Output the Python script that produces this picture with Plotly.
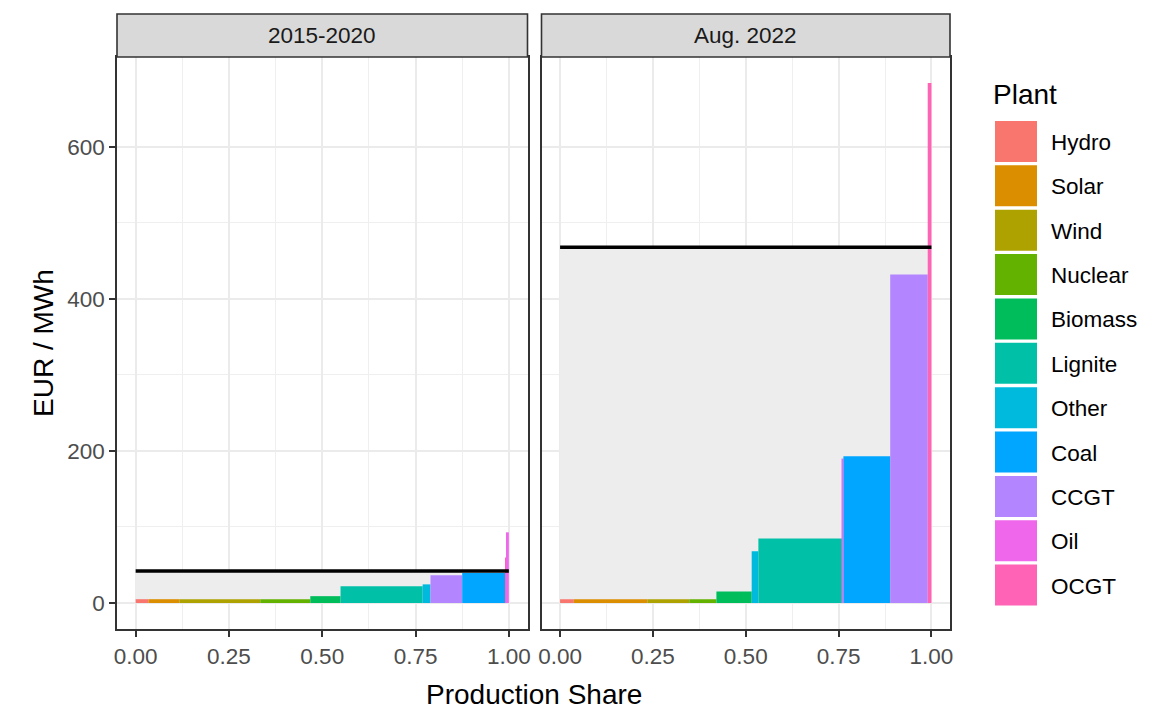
import numpy as np
import plotly.graph_objects as go

# ---------------- data ----------------
plants = ["Hydro", "Solar", "Wind", "Nuclear", "Biomass", "Lignite",
          "Other", "Coal", "CCGT", "Oil", "OCGT"]
plant_colors = ["#F8766D", "#DB8E00", "#AEA200", "#64B200", "#00BD5C", "#00C1A7",
                "#00BADE", "#00A6FF", "#B385FF", "#EF67EB", "#FF63B6"]

periods = ["2015-2020", "Aug. 2022"]

order_2015 = ["Hydro", "Solar", "Wind", "Nuclear", "Biomass", "Lignite",
              "Other", "CCGT", "Coal", "OCGT", "Oil"]
share_2015 = [0.035, 0.083, 0.216, 0.134, 0.081, 0.220, 0.021, 0.085, 0.116, 0.004, 0.005]
price_2015 = [5, 5, 5, 5, 9, 22, 24.5, 36.5, 39.5, 60, 93]

order_2022 = ["Hydro", "Solar", "Wind", "Nuclear", "Biomass", "Other",
              "Lignite", "Oil", "Coal", "CCGT", "OCGT"]
share_2022 = [0.037, 0.198, 0.113, 0.073, 0.095, 0.018, 0.226, 0.003, 0.126, 0.101, 0.010]
price_2022 = [5, 5, 5, 5, 15, 68, 85, 190, 193, 432, 684]

clearing_price = [42, 468]

x_ticks = [0.0, 0.25, 0.5, 0.75, 1.0]
x_tick_labels = ["0.00", "0.25", "0.50", "0.75", "1.00"]
y_ticks = [0, 200, 400, 600]
y_tick_labels = ["0", "200", "400", "600"]

# ---------------- figure ----------------
W, H = 1164, 709
FONT = "Liberation Sans"
TICK_SIZE = 22.5
TITLE_SIZE = 28
color_of = dict(zip(plants, plant_colors))

fig = go.Figure()

panels = [
    (order_2015, share_2015, price_2015, clearing_price[0], "x", "y"),
    (order_2022, share_2022, price_2022, clearing_price[1], "x2", "y2"),
]

for order, share, price, clear, xa, ya in panels:
    share = np.array(share)
    right = np.cumsum(share)
    left = right - share
    # shaded area under the clearing price
    fig.add_trace(go.Bar(x=[0.5], y=[clear], width=[1.0], base=0,
                         marker=dict(color="#EDEDED", line=dict(width=0)),
                         xaxis=xa, yaxis=ya, showlegend=False, hoverinfo="skip"))
    for name, l, w, p in zip(order, left, share, price):
        fig.add_trace(go.Bar(x=[l + w / 2], y=[p], width=[w], base=0, name=name,
                             marker=dict(color=color_of[name], line=dict(width=0)),
                             xaxis=xa, yaxis=ya, showlegend=False))
    fig.add_trace(go.Scatter(x=[0, 1], y=[clear, clear], mode="lines",
                             line=dict(color="black", width=3.6),
                             xaxis=xa, yaxis=ya, showlegend=False, hoverinfo="skip"))

# panel geometry (pixels)
left_px = [(117, 527.5), (541.5, 950)]
top_px, bot_px = 57, 629
ydom = [(H - bot_px) / H, (H - top_px) / H]

axis_common = dict(
    showline=True, mirror=True, linecolor="#333333", linewidth=1.6,
    showgrid=True, gridcolor="#EBEBEB", gridwidth=2,
    zeroline=False, automargin=False,
    tickfont=dict(family=FONT, size=TICK_SIZE, color="#4D4D4D"),
    ticks="outside", ticklen=6, tickwidth=1.6, tickcolor="#333333",
)

xr = [-0.05, 1.05]
yr = [-34.2, 718.2]

for i, (x0, x1) in enumerate(left_px):
    xkey = "xaxis" if i == 0 else "xaxis2"
    ykey = "yaxis" if i == 0 else "yaxis2"
    fig.layout[xkey] = dict(
        axis_common, domain=[x0 / W, x1 / W], range=xr,
        tickvals=x_ticks, ticktext=x_tick_labels,
        minor=dict(tickvals=[0.125, 0.375, 0.625, 0.875], showgrid=True,
                   gridcolor="#EFEFEF", gridwidth=1, ticks=""),
        anchor="y" if i == 0 else "y2",
    )
    yd = dict(
        axis_common, domain=ydom, range=yr,
        tickvals=y_ticks, ticktext=y_tick_labels,
        minor=dict(tickvals=[100, 300, 500], showgrid=True,
                   gridcolor="#EFEFEF", gridwidth=1, ticks=""),
        anchor="x" if i == 0 else "x2",
    )
    if i == 1:
        yd["showticklabels"] = False
        yd["ticks"] = ""
    fig.layout[ykey] = yd

shapes = []
annotations = []

# facet strips
strip_top, strip_bot = 14, 57
for (x0, x1), label in zip(left_px, periods):
    shapes.append(dict(type="rect", xref="paper", yref="paper",
                       x0=x0 / W, x1=x1 / W,
                       y0=(H - strip_bot) / H, y1=(H - strip_top) / H,
                       fillcolor="#D9D9D9", line=dict(color="#333333", width=1.6),
                       layer="above"))
    annotations.append(dict(xref="paper", yref="paper",
                            x=(x0 + x1) / 2 / W, y=(H - (strip_top + strip_bot) / 2) / H,
                            text=label, showarrow=False, xanchor="center", yanchor="middle",
                            font=dict(family=FONT, size=TICK_SIZE, color="#1A1A1A")))

# axis titles
annotations.append(dict(xref="paper", yref="paper", x=(117 + 950) / 2 / W, y=(H - 694) / H,
                        text="Production Share", showarrow=False,
                        xanchor="center", yanchor="middle",
                        font=dict(family=FONT, size=TITLE_SIZE, color="black")))
annotations.append(dict(xref="paper", yref="paper", x=43 / W, y=(H - 343) / H,
                        text="EUR / MWh", showarrow=False, textangle=-90,
                        xanchor="center", yanchor="middle",
                        font=dict(family=FONT, size=TITLE_SIZE, color="black")))

# legend (drawn manually to match ggplot key size)
annotations.append(dict(xref="paper", yref="paper", x=991 / W, y=(H - 94) / H,
                        text="Plant", showarrow=False, xanchor="left", yanchor="middle",
                        font=dict(family=FONT, size=TITLE_SIZE, color="black")))
key_top0, key_pitch, key_h = 121, 44.36, 41
for k, (name, col) in enumerate(zip(plants, plant_colors)):
    t = key_top0 + k * key_pitch
    shapes.append(dict(type="rect", xref="paper", yref="paper",
                       x0=995 / W, x1=1037 / W, y0=(H - t - key_h) / H, y1=(H - t) / H,
                       fillcolor=col, line=dict(width=0)))
    annotations.append(dict(xref="paper", yref="paper", x=1049 / W,
                            y=(H - t - key_h / 2 - 1) / H, text=name, showarrow=False,
                            xanchor="left", yanchor="middle",
                            font=dict(family=FONT, size=TICK_SIZE, color="black")))

fig.update_layout(
    width=W, height=H, template="none",
    margin=dict(l=0, r=0, t=0, b=0, autoexpand=False),
    paper_bgcolor="white", plot_bgcolor="white",
    barmode="overlay", showlegend=False,
    shapes=shapes, annotations=annotations,
    font=dict(family=FONT),
)

fig.write_html("out.html",
               config={"displayModeBar": False},
               post_script="document.body.style.margin='0px';"
                           "document.body.style.overflow='hidden';")
